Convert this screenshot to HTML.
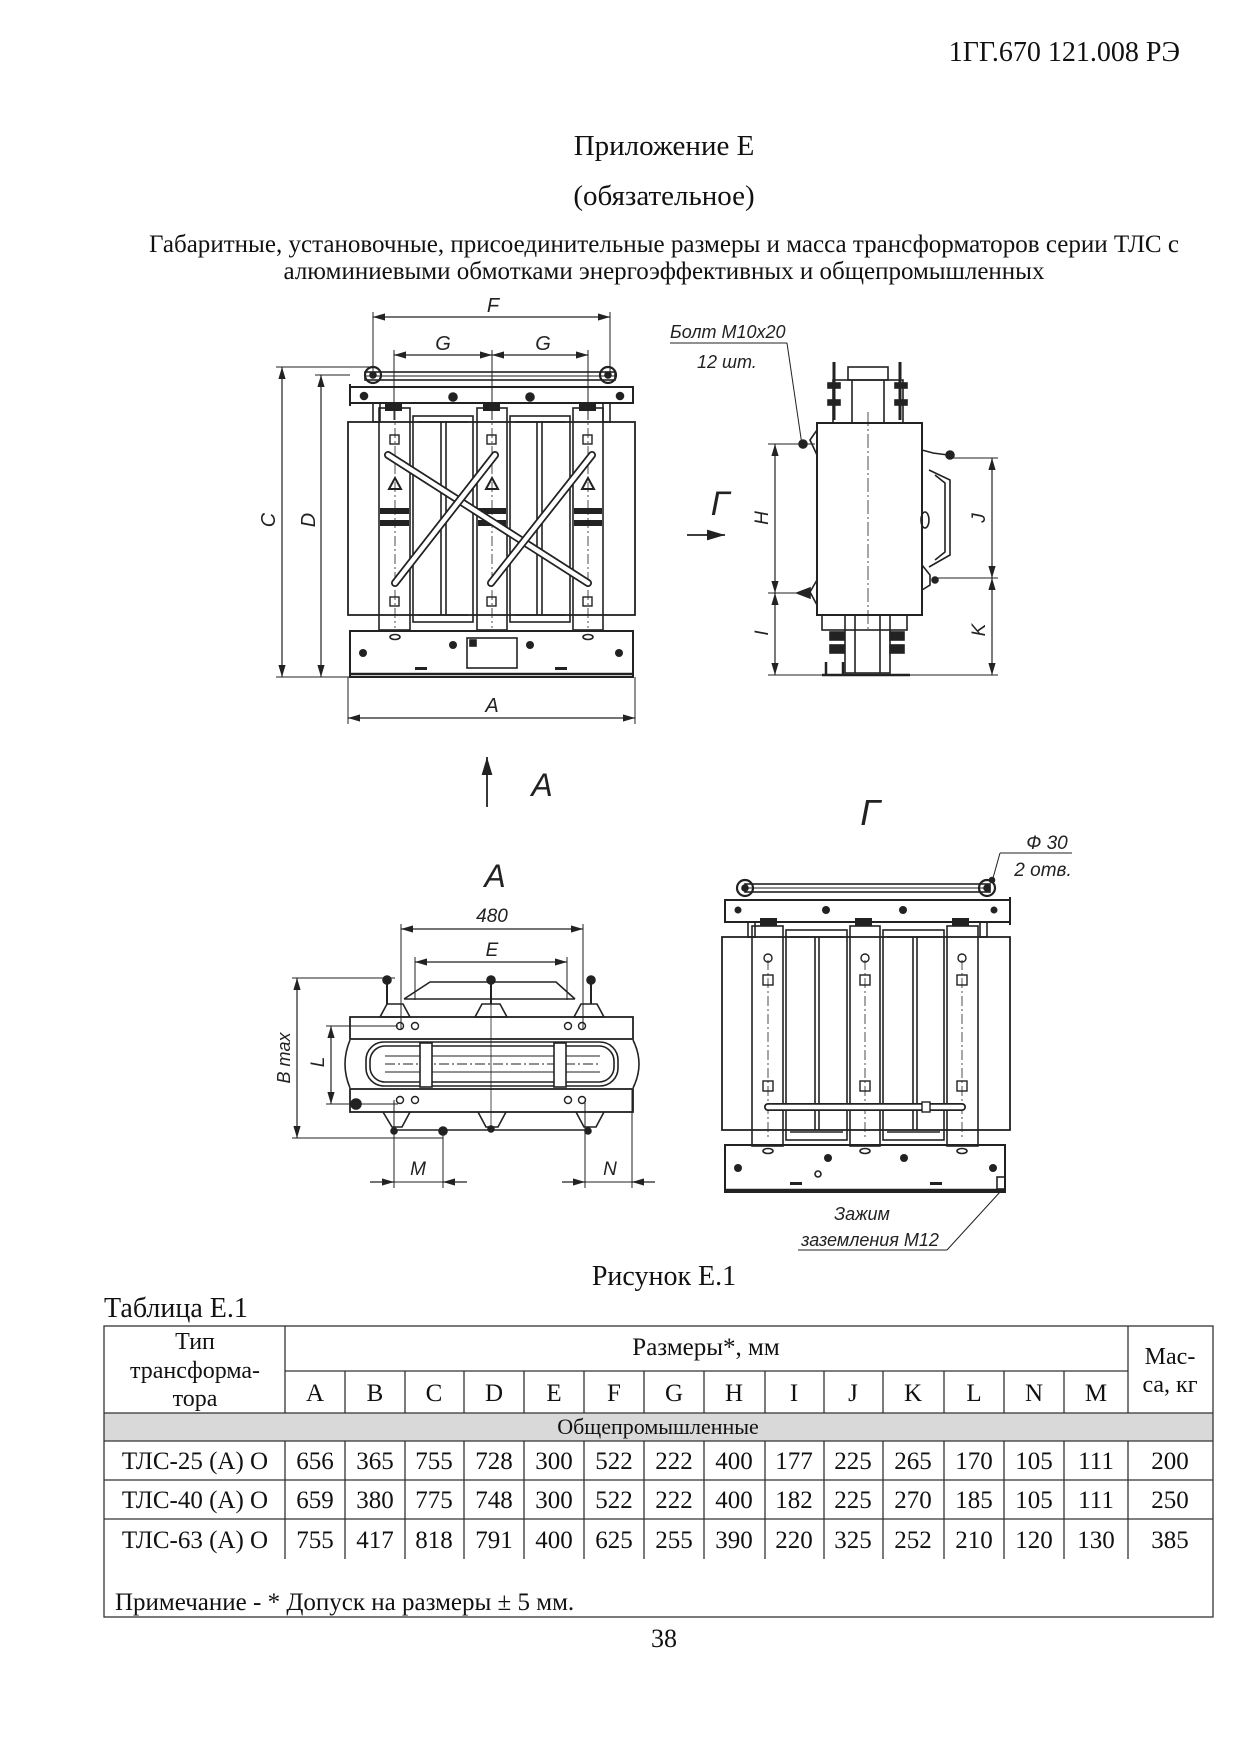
<!DOCTYPE html>
<html><head><meta charset="utf-8"><style>
html,body{margin:0;padding:0;background:#fff;}
svg{display:block;}
.t{font-family:"Liberation Serif","Noto Serif CJK SC",serif;fill:#111;}
.l{font-family:"Liberation Sans","DejaVu Sans",sans-serif;font-style:italic;fill:#222;}
</style></head><body>
<svg width="1241" height="1755" viewBox="0 0 1241 1755" xmlns="http://www.w3.org/2000/svg">
<defs>
<marker id="ar" viewBox="0 0 10 6" refX="10" refY="3" markerWidth="10" markerHeight="6" orient="auto-start-reverse"><path d="M0,0 L10,3 L0,6 z" fill="#222"/></marker>
</defs>
<text class="t" x="1180" y="61" font-size="28" text-anchor="end">1ГГ.670 121.008 РЭ</text>
<text class="t" x="664" y="155" font-size="29" text-anchor="middle">Приложение Е</text>
<text class="t" x="664" y="205" font-size="29" text-anchor="middle">(обязательное)</text>
<text class="t" x="664" y="252" font-size="25" text-anchor="middle" textLength="1030" lengthAdjust="spacingAndGlyphs">Габаритные, установочные, присоединительные размеры и масса трансформаторов серии ТЛС с</text>
<text class="t" x="664" y="279" font-size="25" text-anchor="middle">алюминиевыми обмотками энергоэффективных и общепромышленных</text>

<g stroke="#222" fill="none" stroke-width="1.6">
<line x1="373" y1="312" x2="373" y2="378" stroke-width="1"/><line x1="610" y1="312" x2="610" y2="378" stroke-width="1"/>
<line x1="373" y1="317" x2="610" y2="317" stroke-width="1.2" marker-start="url(#ar)" marker-end="url(#ar)"/>
<line x1="394" y1="350" x2="394" y2="420" stroke-width="1"/><line x1="492" y1="350" x2="492" y2="420" stroke-width="1"/><line x1="588" y1="350" x2="588" y2="420" stroke-width="1"/>
<line x1="394" y1="355" x2="492" y2="355" stroke-width="1.2" marker-start="url(#ar)" marker-end="url(#ar)"/>
<line x1="492" y1="355" x2="588" y2="355" stroke-width="1.2" marker-start="url(#ar)" marker-end="url(#ar)"/>
<line x1="276" y1="367" x2="372" y2="367" stroke-width="1"/><line x1="315" y1="375" x2="350" y2="375" stroke-width="1"/>
<line x1="276" y1="677" x2="350" y2="677" stroke-width="1"/>
<line x1="282" y1="367" x2="282" y2="677" stroke-width="1.2" marker-start="url(#ar)" marker-end="url(#ar)"/>
<line x1="321" y1="375" x2="321" y2="677" stroke-width="1.2" marker-start="url(#ar)" marker-end="url(#ar)"/>
<line x1="348" y1="677" x2="348" y2="724" stroke-width="1"/><line x1="635" y1="677" x2="635" y2="724" stroke-width="1"/>
<line x1="348" y1="718" x2="635" y2="718" stroke-width="1.2" marker-start="url(#ar)" marker-end="url(#ar)"/>
<rect x="365" y="372" width="250" height="8"/>
<line x1="365" y1="376" x2="615" y2="376" stroke-width="1"/>
<circle cx="373" cy="375" r="8" stroke-width="2.2"/><circle cx="373" cy="375" r="3" fill="#222"/>
<circle cx="608" cy="375" r="8" stroke-width="2.2"/><circle cx="608" cy="375" r="3" fill="#222"/>
<rect x="350" y="387" width="283" height="16" stroke-width="2"/>
<line x1="350" y1="384" x2="350" y2="406" stroke-width="2"/>
<circle cx="364" cy="396" r="3.5" fill="#222"/><circle cx="453" cy="397" r="4" fill="#222"/><circle cx="530" cy="397" r="4" fill="#222"/><circle cx="620" cy="396" r="3.5" fill="#222"/>
<rect x="373" y="403" width="7" height="19"/><rect x="603" y="403" width="7" height="19"/>
<g fill="#222" stroke="none">
<rect x="385" y="404" width="17" height="7"/><rect x="483" y="404" width="17" height="7"/><rect x="579" y="404" width="17" height="7"/>
</g>
<rect x="348" y="422" width="287" height="193" stroke-width="1.8"/>
<rect x="379" y="408" width="31" height="222"/><rect x="477" y="408" width="30" height="222"/><rect x="573" y="408" width="30" height="222"/>
<rect x="413" y="416" width="60" height="206"/><rect x="510" y="416" width="60" height="206"/>
<line x1="418" y1="422" x2="468" y2="422"/><line x1="515" y1="422" x2="565" y2="422"/>
<line x1="418" y1="615" x2="468" y2="615"/><line x1="515" y1="615" x2="565" y2="615"/>
<line x1="441" y1="422" x2="441" y2="615"/><line x1="446" y1="422" x2="446" y2="615"/>
<line x1="537" y1="422" x2="537" y2="615"/><line x1="542" y1="422" x2="542" y2="615"/>
<g stroke-width="0.8" stroke-dasharray="10 3 2 3">
<line x1="395" y1="410" x2="395" y2="628"/><line x1="492" y1="410" x2="492" y2="628"/><line x1="588" y1="410" x2="588" y2="628"/>
</g>
<g stroke-width="1.4">
<rect x="390" y="435" width="9" height="9"/><rect x="487" y="435" width="9" height="9"/><rect x="583" y="435" width="9" height="9"/>
<rect x="390" y="597" width="9" height="9"/><rect x="487" y="597" width="9" height="9"/><rect x="583" y="597" width="9" height="9"/>
<path d="M395,478 L389,489 L401,489 Z" stroke-width="2"/><path d="M492,478 L486,489 L498,489 Z" stroke-width="2"/><path d="M588,478 L582,489 L594,489 Z" stroke-width="2"/>
</g>
<g fill="#222" stroke="none">
<rect x="380" y="508" width="29" height="6"/><rect x="380" y="520" width="29" height="6"/>
<rect x="478" y="508" width="28" height="6"/><rect x="478" y="520" width="28" height="6"/>
<rect x="574" y="508" width="28" height="6"/><rect x="574" y="520" width="28" height="6"/>
</g>
<g stroke-linecap="round">
<line x1="388" y1="455" x2="588" y2="583" stroke="#222" stroke-width="8"/>
<line x1="388" y1="455" x2="588" y2="583" stroke="#fff" stroke-width="4.5"/>
<line x1="395" y1="583" x2="495" y2="455" stroke="#222" stroke-width="8"/>
<line x1="395" y1="583" x2="495" y2="455" stroke="#fff" stroke-width="4.5"/>
<line x1="491" y1="583" x2="592" y2="455" stroke="#222" stroke-width="8"/>
<line x1="491" y1="583" x2="592" y2="455" stroke="#fff" stroke-width="4.5"/>
</g>
<rect x="350" y="631" width="283" height="46" stroke-width="2"/>
<line x1="350" y1="674" x2="633" y2="674" stroke-width="2.5"/>
<rect x="467" y="638" width="50" height="30"/>
<rect x="470" y="640" width="6" height="6" fill="#222"/>
<g fill="#222" stroke="none">
<circle cx="363" cy="653" r="4"/><circle cx="453" cy="645" r="4"/><circle cx="530" cy="645" r="4"/><circle cx="619" cy="653" r="4"/>
<rect x="415" y="667" width="12" height="3"/><rect x="555" y="667" width="12" height="3"/>
</g>
<ellipse cx="395" cy="637" rx="5" ry="2.5"/><ellipse cx="588" cy="637" rx="5" ry="2.5"/>

<line x1="670" y1="343" x2="787" y2="343" stroke-width="1"/>
<line x1="787" y1="343" x2="802" y2="445" stroke-width="1"/>
<rect x="817" y="423" width="105" height="192" stroke-width="2"/>
<line x1="868" y1="412" x2="868" y2="630" stroke-width="0.8" stroke-dasharray="14 3 2 3"/>
<rect x="833" y="380" width="70" height="43"/>
<rect x="848" y="367" width="40" height="13"/>
<line x1="852" y1="380" x2="852" y2="423"/><line x1="884" y1="380" x2="884" y2="423"/>
<line x1="834" y1="362" x2="834" y2="420" stroke-width="3"/><line x1="900" y1="362" x2="900" y2="420" stroke-width="3"/>
<rect x="828" y="383" width="12" height="5" fill="#222"/><rect x="895" y="383" width="12" height="5" fill="#222"/>
<rect x="828" y="400" width="12" height="5" fill="#222"/><rect x="895" y="400" width="12" height="5" fill="#222"/>
<rect x="822" y="615" width="85" height="15"/>
<rect x="845" y="615" width="45" height="58"/>
<line x1="855" y1="615" x2="855" y2="673"/><line x1="880" y1="615" x2="880" y2="673"/>
<rect x="830" y="632" width="14" height="8" fill="#222"/><rect x="890" y="632" width="14" height="8" fill="#222"/>
<rect x="830" y="645" width="14" height="8" fill="#222"/><rect x="890" y="645" width="14" height="8" fill="#222"/>
<line x1="822" y1="675" x2="910" y2="675" stroke-width="2.5"/>
<path d="M826,662 L826,675 M843,662 L843,675" stroke-width="2.5"/>
<path d="M817,430 L810,440 L817,455"/><circle cx="803" cy="444" r="4" fill="#222"/>
<path d="M817,580 L810,592 L817,605"/><path d="M797,593 L810,588 L810,598 Z" fill="#222"/>
<path d="M922,450 L933,453 L948,455"/><circle cx="950" cy="455" r="4" fill="#222"/>
<path d="M929,470 L950,480 L950,555 L929,567"/><path d="M935,475 L945,483 L945,552 L935,560"/>
<path d="M922,565 L930,575 L930,585 L922,590"/><circle cx="935" cy="580" r="3" fill="#222"/>
<ellipse cx="925" cy="520" rx="4" ry="8"/>
<line x1="768" y1="444" x2="815" y2="444" stroke-width="1"/>
<line x1="768" y1="593" x2="810" y2="593" stroke-width="1"/>
<line x1="768" y1="675" x2="822" y2="675" stroke-width="1"/>
<line x1="775" y1="444" x2="775" y2="593" stroke-width="1.2" marker-start="url(#ar)" marker-end="url(#ar)"/>
<line x1="775" y1="593" x2="775" y2="675" stroke-width="1.2" marker-start="url(#ar)" marker-end="url(#ar)"/>
<line x1="952" y1="458" x2="998" y2="458" stroke-width="1"/>
<line x1="935" y1="578" x2="998" y2="578" stroke-width="1"/>
<line x1="910" y1="675" x2="998" y2="675" stroke-width="1"/>
<line x1="992" y1="458" x2="992" y2="578" stroke-width="1.2" marker-start="url(#ar)" marker-end="url(#ar)"/>
<line x1="992" y1="578" x2="992" y2="675" stroke-width="1.2" marker-start="url(#ar)" marker-end="url(#ar)"/>
<line x1="687" y1="535" x2="725" y2="535" stroke-width="1.8" marker-end="url(#ar)"/>

<line x1="487" y1="807" x2="487" y2="757" stroke-width="1.8" marker-end="url(#ar)"/>

<line x1="401" y1="924" x2="401" y2="1030" stroke-width="1"/><line x1="583" y1="924" x2="583" y2="1030" stroke-width="1"/>
<line x1="401" y1="929" x2="583" y2="929" stroke-width="1.2" marker-start="url(#ar)" marker-end="url(#ar)"/>
<line x1="415" y1="957" x2="415" y2="1000" stroke-width="1"/><line x1="567" y1="957" x2="567" y2="1000" stroke-width="1"/>
<line x1="415" y1="962" x2="567" y2="962" stroke-width="1.2" marker-start="url(#ar)" marker-end="url(#ar)"/>
<path d="M404,999 L430,982 L556,982 L575,999"/><line x1="404" y1="999" x2="575" y2="999"/>
<line x1="491" y1="982" x2="491" y2="1130" stroke-width="0.8"/>
<path d="M380,1017 L387,1004 L403,1004 L410,1017 Z"/><path d="M475,1017 L482,1004 L500,1004 L507,1017 Z"/><path d="M574,1017 L581,1004 L597,1004 L604,1017 Z"/>
<circle cx="387" cy="980" r="4" fill="#222"/><circle cx="491" cy="980" r="4" fill="#222"/><circle cx="591" cy="980" r="4" fill="#222"/>
<line x1="387" y1="980" x2="387" y2="1004" stroke-width="2"/><line x1="491" y1="980" x2="491" y2="1004" stroke-width="2"/><line x1="591" y1="980" x2="591" y2="1004" stroke-width="2"/>
<rect x="350" y="1017" width="283" height="22" stroke-width="1.8"/>
<rect x="350" y="1089" width="283" height="23" stroke-width="1.8"/>
<path d="M350,1040 Q340,1064 350,1088"/><path d="M633,1040 Q645,1064 633,1088"/>
<rect x="366" y="1042" width="252" height="44" rx="18"/>
<rect x="370" y="1046" width="244" height="36" rx="15"/>
<line x1="385" y1="1056" x2="600" y2="1056" stroke-width="1"/><line x1="385" y1="1064" x2="600" y2="1064" stroke-width="1" stroke-dasharray="10 3 2 3"/><line x1="385" y1="1072" x2="600" y2="1072" stroke-width="1"/>
<rect x="420" y="1043" width="12" height="44" fill="#fff"/><rect x="554" y="1043" width="12" height="44" fill="#fff"/>
<g fill="none" stroke-width="1.4">
<circle cx="400" cy="1026" r="3.5"/><circle cx="415" cy="1026" r="3.5"/><circle cx="568" cy="1026" r="3.5"/><circle cx="582" cy="1026" r="3.5"/>
<circle cx="400" cy="1100" r="3.5"/><circle cx="415" cy="1100" r="3.5"/><circle cx="568" cy="1100" r="3.5"/><circle cx="582" cy="1100" r="3.5"/>
</g>
<circle cx="356" cy="1104" r="5" fill="#222"/>
<path d="M383,1112 L392,1127 L402,1127 L410,1112"/><path d="M478,1112 L486,1127 L498,1127 L506,1112"/><path d="M576,1112 L584,1127 L596,1127 L604,1112"/>
<line x1="395" y1="1130" x2="590" y2="1130"/>
<circle cx="394" cy="1131" r="3" fill="#222"/><circle cx="443" cy="1131" r="4" fill="#222"/><circle cx="491" cy="1129" r="3" fill="#222"/><circle cx="588" cy="1131" r="3" fill="#222"/>
<line x1="292" y1="978" x2="395" y2="978" stroke-width="1"/>
<line x1="292" y1="1138" x2="443" y2="1138" stroke-width="1"/>
<line x1="297" y1="978" x2="297" y2="1138" stroke-width="1.2" marker-start="url(#ar)" marker-end="url(#ar)"/>
<line x1="326" y1="1026" x2="398" y2="1026" stroke-width="1"/>
<line x1="326" y1="1104" x2="398" y2="1104" stroke-width="1"/>
<line x1="331" y1="1026" x2="331" y2="1104" stroke-width="1.2" marker-start="url(#ar)" marker-end="url(#ar)"/>
<line x1="394" y1="1100" x2="394" y2="1188" stroke-width="1"/><line x1="443" y1="1135" x2="443" y2="1188" stroke-width="1"/>
<line x1="370" y1="1182" x2="394" y2="1182" stroke-width="1.2" marker-end="url(#ar)"/>
<line x1="467" y1="1182" x2="443" y2="1182" stroke-width="1.2" marker-end="url(#ar)"/>
<line x1="394" y1="1182" x2="443" y2="1182" stroke-width="1"/>
<line x1="585" y1="1100" x2="585" y2="1188" stroke-width="1"/><line x1="632" y1="1090" x2="632" y2="1188" stroke-width="1"/>
<line x1="562" y1="1182" x2="585" y2="1182" stroke-width="1.2" marker-end="url(#ar)"/>
<line x1="655" y1="1182" x2="632" y2="1182" stroke-width="1.2" marker-end="url(#ar)"/>
<line x1="585" y1="1182" x2="632" y2="1182" stroke-width="1"/>

<line x1="1000" y1="853" x2="1072" y2="853" stroke-width="1"/>
<line x1="1000" y1="853" x2="993" y2="878" stroke-width="1"/><circle cx="992" cy="880" r="2.5" fill="#222"/>
<rect x="745" y="884" width="245" height="8"/><line x1="745" y1="888" x2="990" y2="888" stroke-width="1"/>
<circle cx="745" cy="888" r="8" stroke-width="2.2"/><circle cx="745" cy="888" r="3" fill="#222"/>
<circle cx="987" cy="888" r="8" stroke-width="2.2"/><circle cx="987" cy="888" r="3" fill="#222"/>
<rect x="725" y="900" width="285" height="22" stroke-width="2"/>
<line x1="1010" y1="897" x2="1010" y2="925" stroke-width="2"/>
<g fill="#222" stroke="none"><circle cx="738" cy="910" r="3.5"/><circle cx="826" cy="910" r="4"/><circle cx="903" cy="910" r="4"/><circle cx="994" cy="910" r="3.5"/>
<rect x="760" y="918" width="17" height="8"/><rect x="855" y="918" width="17" height="8"/><rect x="952" y="918" width="17" height="8"/></g>
<rect x="748" y="922" width="7" height="15"/><rect x="980" y="922" width="7" height="15"/>
<rect x="722" y="937" width="288" height="193" stroke-width="1.8"/>
<rect x="752" y="926" width="31" height="220"/><rect x="850" y="926" width="30" height="220"/><rect x="947" y="926" width="31" height="220"/>
<rect x="786" y="930" width="61" height="210"/><rect x="883" y="930" width="61" height="210"/>
<line x1="790" y1="937" x2="843" y2="937"/><line x1="887" y1="937" x2="940" y2="937"/>
<line x1="790" y1="1132" x2="843" y2="1132"/><line x1="887" y1="1132" x2="940" y2="1132"/>
<line x1="815" y1="937" x2="815" y2="1130"/><line x1="819" y1="937" x2="819" y2="1130"/>
<line x1="913" y1="937" x2="913" y2="1130"/><line x1="917" y1="937" x2="917" y2="1130"/>
<g stroke-width="0.8" stroke-dasharray="10 3 2 3">
<line x1="768" y1="960" x2="768" y2="1140"/><line x1="865" y1="960" x2="865" y2="1140"/><line x1="962" y1="960" x2="962" y2="1140"/>
</g>
<g stroke-width="1.4">
<circle cx="768" cy="958" r="4"/><circle cx="865" cy="958" r="4"/><circle cx="962" cy="958" r="4"/>
<rect x="763" y="975" width="10" height="10"/><rect x="860" y="975" width="10" height="10"/><rect x="957" y="975" width="10" height="10"/>
<rect x="763" y="1081" width="10" height="10"/><rect x="860" y="1081" width="10" height="10"/><rect x="957" y="1081" width="10" height="10"/>
</g>
<line x1="768" y1="1107" x2="962" y2="1107" stroke="#222" stroke-width="8" stroke-linecap="round"/>
<line x1="768" y1="1107" x2="962" y2="1107" stroke="#fff" stroke-width="4.5" stroke-linecap="round"/>
<rect x="922" y="1102" width="8" height="10" stroke-width="1.4" fill="#fff"/>
<rect x="725" y="1145" width="280" height="47" stroke-width="2"/>
<line x1="725" y1="1190" x2="1005" y2="1190" stroke-width="2.5"/>
<g fill="#222" stroke="none">
<circle cx="738" cy="1168" r="4"/><circle cx="828" cy="1158" r="4"/><circle cx="904" cy="1158" r="4"/><circle cx="993" cy="1168" r="4"/>
<rect x="790" y="1182" width="12" height="3"/><rect x="930" y="1182" width="12" height="3"/>
</g>
<circle cx="818" cy="1174" r="3"/>
<rect x="997" y="1177" width="8" height="12"/>
<ellipse cx="768" cy="1151" rx="5" ry="2.5"/><ellipse cx="865" cy="1151" rx="5" ry="2.5"/><ellipse cx="962" cy="1151" rx="5" ry="2.5"/>
<line x1="798" y1="1250" x2="947" y2="1250" stroke-width="1"/>
<line x1="947" y1="1250" x2="1000" y2="1192" stroke-width="1"/>
</g>

<g class="l">
<text x="493" y="312" font-size="20" text-anchor="middle">F</text>
<text x="443" y="350" font-size="20" text-anchor="middle">G</text>
<text x="543" y="350" font-size="20" text-anchor="middle">G</text>
<text x="492" y="712" font-size="20" text-anchor="middle">A</text>
<text transform="translate(275,520) rotate(-90)" font-size="20" text-anchor="middle">C</text>
<text transform="translate(315,520) rotate(-90)" font-size="20" text-anchor="middle">D</text>
<text x="670" y="338" font-size="18">Болт М10х20</text>
<text x="697" y="368" font-size="18">12 шт.</text>
<text transform="translate(768,518) rotate(-90)" font-size="19" text-anchor="middle">H</text>
<text transform="translate(768,633) rotate(-90)" font-size="19" text-anchor="middle">I</text>
<text transform="translate(985,518) rotate(-90)" font-size="19" text-anchor="middle">J</text>
<text transform="translate(985,630) rotate(-90)" font-size="19" text-anchor="middle">K</text>
<text x="720" y="515" font-size="34" text-anchor="middle">Г</text>
<text x="542" y="796" font-size="32" text-anchor="middle">A</text>
<text x="495" y="887" font-size="32" text-anchor="middle">A</text>
<text x="492" y="922" font-size="19" text-anchor="middle">480</text>
<text x="492" y="956" font-size="19" text-anchor="middle">E</text>
<text transform="translate(290,1058) rotate(-90)" font-size="18" text-anchor="middle">B max</text>
<text transform="translate(324,1062) rotate(-90)" font-size="19" text-anchor="middle">L</text>
<text x="418" y="1175" font-size="19" text-anchor="middle">M</text>
<text x="610" y="1175" font-size="19" text-anchor="middle">N</text>
<text x="870" y="825" font-size="36" text-anchor="middle">Г</text>
<text x="1047" y="849" font-size="19" text-anchor="middle">Ф 30</text>
<text x="1043" y="876" font-size="19" text-anchor="middle">2 отв.</text>
<text x="862" y="1220" font-size="18" text-anchor="middle">Зажим</text>
<text x="870" y="1246" font-size="18" text-anchor="middle">заземления М12</text>
</g>

<text class="t" x="664" y="1285" font-size="28" text-anchor="middle">Рисунок Е.1</text>
<text class="t" x="104" y="1317" font-size="28">Таблица Е.1</text>

<rect x="104" y="1413" width="1109" height="28" fill="#d9d9d9"/>
<g stroke="#333" stroke-width="1.3" fill="none">
<rect x="104" y="1326" width="1109" height="291"/>
<line x1="285" y1="1371" x2="1128" y2="1371"/>
<line x1="104" y1="1413" x2="1213" y2="1413"/>
<line x1="104" y1="1441" x2="1213" y2="1441"/>
<line x1="104" y1="1480" x2="1213" y2="1480"/>
<line x1="104" y1="1519" x2="1213" y2="1519"/>
<line x1="285" y1="1326" x2="285" y2="1413"/><line x1="1128" y1="1326" x2="1128" y2="1413"/>
<line x1="285" y1="1441" x2="285" y2="1559"/><line x1="1128" y1="1441" x2="1128" y2="1559"/>
<line x1="345" y1="1371" x2="345" y2="1413"/><line x1="405" y1="1371" x2="405" y2="1413"/><line x1="464" y1="1371" x2="464" y2="1413"/><line x1="524" y1="1371" x2="524" y2="1413"/><line x1="584" y1="1371" x2="584" y2="1413"/><line x1="644" y1="1371" x2="644" y2="1413"/><line x1="704" y1="1371" x2="704" y2="1413"/><line x1="765" y1="1371" x2="765" y2="1413"/><line x1="824" y1="1371" x2="824" y2="1413"/><line x1="883" y1="1371" x2="883" y2="1413"/><line x1="944" y1="1371" x2="944" y2="1413"/><line x1="1004" y1="1371" x2="1004" y2="1413"/><line x1="1064" y1="1371" x2="1064" y2="1413"/>
<line x1="345" y1="1441" x2="345" y2="1559"/><line x1="405" y1="1441" x2="405" y2="1559"/><line x1="464" y1="1441" x2="464" y2="1559"/><line x1="524" y1="1441" x2="524" y2="1559"/><line x1="584" y1="1441" x2="584" y2="1559"/><line x1="644" y1="1441" x2="644" y2="1559"/><line x1="704" y1="1441" x2="704" y2="1559"/><line x1="765" y1="1441" x2="765" y2="1559"/><line x1="824" y1="1441" x2="824" y2="1559"/><line x1="883" y1="1441" x2="883" y2="1559"/><line x1="944" y1="1441" x2="944" y2="1559"/><line x1="1004" y1="1441" x2="1004" y2="1559"/><line x1="1064" y1="1441" x2="1064" y2="1559"/>
</g>
<g class="t" font-size="25" text-anchor="middle">
<text x="195" y="1349" font-size="24">Тип</text>
<text x="195" y="1378" font-size="24">трансформа-</text>
<text x="195" y="1406" font-size="24">тора</text>
<text x="706" y="1355">Размеры*, мм</text>
<text x="1170" y="1364" font-size="24">Мас-</text>
<text x="1170" y="1392" font-size="24">са, кг</text>
<text x="315" y="1401">A</text><text x="375" y="1401">B</text><text x="434" y="1401">C</text><text x="494" y="1401">D</text><text x="554" y="1401">E</text><text x="614" y="1401">F</text><text x="674" y="1401">G</text><text x="734" y="1401">H</text><text x="794" y="1401">I</text><text x="853" y="1401">J</text><text x="913" y="1401">K</text><text x="974" y="1401">L</text><text x="1034" y="1401">N</text><text x="1096" y="1401">M</text>
<text x="658" y="1434" font-size="22">Общепромышленные</text>
<text x="195" y="1469">ТЛС-25 (А) О</text>
<text x="315" y="1469">656</text><text x="375" y="1469">365</text><text x="434" y="1469">755</text><text x="494" y="1469">728</text><text x="554" y="1469">300</text><text x="614" y="1469">522</text><text x="674" y="1469">222</text><text x="734" y="1469">400</text><text x="794" y="1469">177</text><text x="853" y="1469">225</text><text x="913" y="1469">265</text><text x="974" y="1469">170</text><text x="1034" y="1469">105</text><text x="1096" y="1469">111</text><text x="1170" y="1469">200</text>
<text x="195" y="1508">ТЛС-40 (А) О</text>
<text x="315" y="1508">659</text><text x="375" y="1508">380</text><text x="434" y="1508">775</text><text x="494" y="1508">748</text><text x="554" y="1508">300</text><text x="614" y="1508">522</text><text x="674" y="1508">222</text><text x="734" y="1508">400</text><text x="794" y="1508">182</text><text x="853" y="1508">225</text><text x="913" y="1508">270</text><text x="974" y="1508">185</text><text x="1034" y="1508">105</text><text x="1096" y="1508">111</text><text x="1170" y="1508">250</text>
<text x="195" y="1548">ТЛС-63 (А) О</text>
<text x="315" y="1548">755</text><text x="375" y="1548">417</text><text x="434" y="1548">818</text><text x="494" y="1548">791</text><text x="554" y="1548">400</text><text x="614" y="1548">625</text><text x="674" y="1548">255</text><text x="734" y="1548">390</text><text x="794" y="1548">220</text><text x="853" y="1548">325</text><text x="913" y="1548">252</text><text x="974" y="1548">210</text><text x="1034" y="1548">120</text><text x="1096" y="1548">130</text><text x="1170" y="1548">385</text>
</g>
<text class="t" x="115" y="1610" font-size="25">Примечание - * Допуск на размеры ± 5 мм.</text>
<text class="t" x="664" y="1647" font-size="26" text-anchor="middle">38</text>
</svg>
</body></html>
